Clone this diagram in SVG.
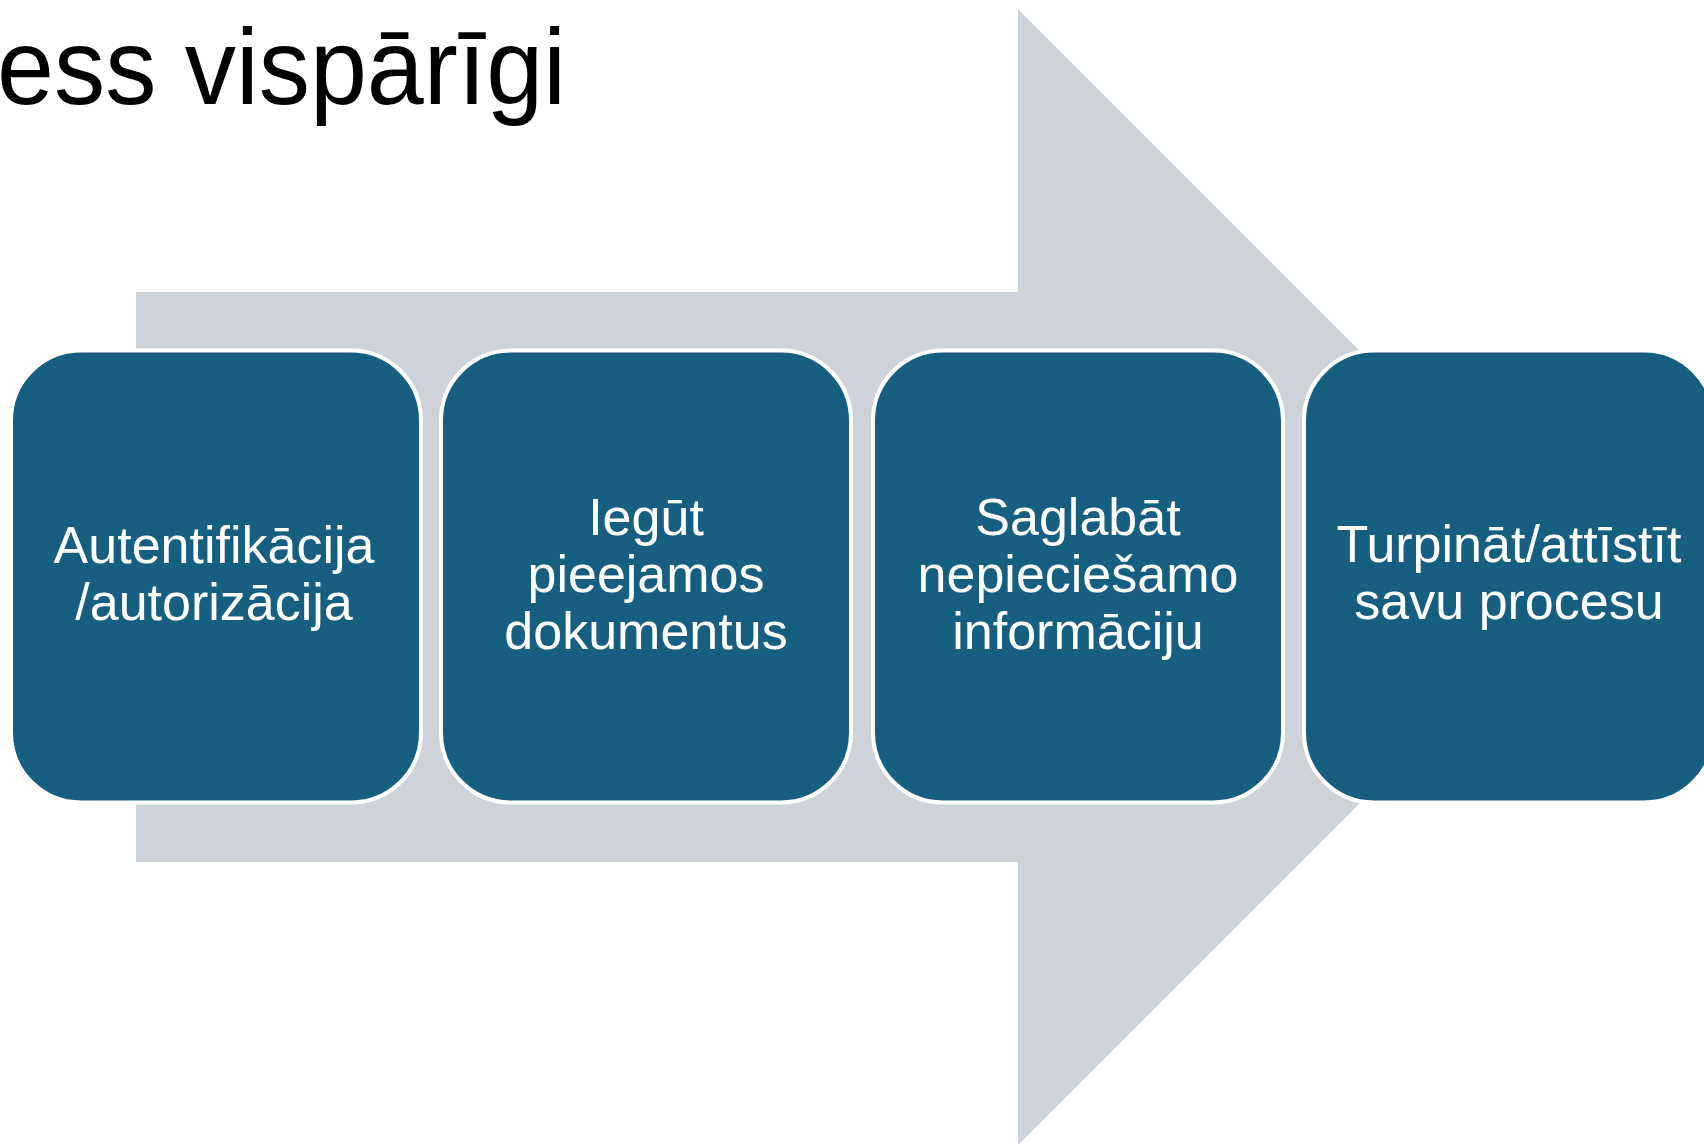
<svg xmlns="http://www.w3.org/2000/svg" width="1704" height="1144" viewBox="0 0 1704 1144">
  <style>
    .title { font-family: "Liberation Sans", Arial, sans-serif; font-size: 108px; fill: #000000; }
    .box { fill: #175F81; stroke: #FFFFFF; stroke-width: 4; }
    .label { font-family: "Liberation Sans", Arial, sans-serif; font-size: 52px; fill: #FFFFFF; text-anchor: middle; }
    .arrow { fill: #CED3D9; }
  </style>
  <rect x="0" y="0" width="1704" height="1144" fill="#FFFFFF"/>
  <text class="title" x="-3" y="104" textLength="569" lengthAdjust="spacingAndGlyphs">ess vispārīgi</text>
  <g id="arrow">
    <polygon class="arrow" points="136,292 1018,292 1018,9 1586,577 1018,1145 1018,862 136,862"/>
  </g>
  <g id="node1">
    <rect class="box" x="11" y="350.5" width="410" height="452" rx="70" ry="70"/>
    <text class="label" x="214"><tspan x="214" y="563">Autentifikācija</tspan><tspan x="214" y="620">/autorizācija</tspan></text>
  </g>
  <g id="node2">
    <rect class="box" x="441" y="350.5" width="410" height="452" rx="70" ry="70"/>
    <text class="label" x="646"><tspan x="646" y="535">Iegūt</tspan><tspan x="646" y="592">pieejamos</tspan><tspan x="646" y="649">dokumentus</tspan></text>
  </g>
  <g id="node3">
    <rect class="box" x="873" y="350.5" width="410" height="452" rx="70" ry="70"/>
    <text class="label" x="1078"><tspan x="1078" y="535">Saglabāt</tspan><tspan x="1078" y="592">nepieciešamo</tspan><tspan x="1078" y="649">informāciju</tspan></text>
  </g>
  <g id="node4">
    <rect class="box" x="1304" y="350.5" width="410" height="452" rx="70" ry="70"/>
    <text class="label" x="1509"><tspan x="1509" y="562">Turpināt/attīstīt</tspan><tspan x="1509" y="619">savu procesu</tspan></text>
  </g>
</svg>
